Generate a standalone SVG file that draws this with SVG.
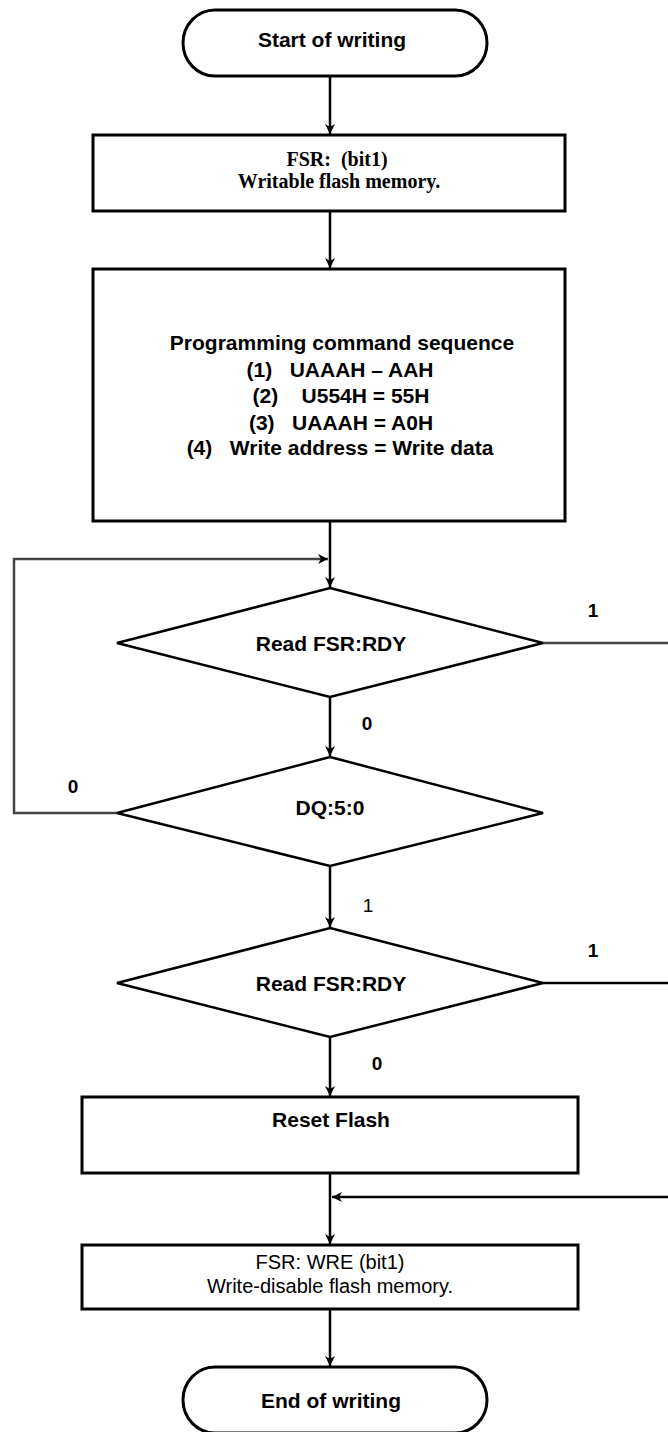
<svg xmlns="http://www.w3.org/2000/svg" width="668" height="1432" viewBox="0 0 668 1432">
<style>
.shape{fill:#fff;stroke:#000;stroke-width:3}
.dia{fill:#fff;stroke:#000;stroke-width:2.5}
.t{font-family:"Liberation Sans",Arial,sans-serif;font-size:21px;font-weight:bold;fill:#000;text-anchor:middle}
.tr{font-family:"Liberation Sans",Arial,sans-serif;font-size:20px;fill:#000;text-anchor:middle}
.ts{font-family:"Liberation Serif","Times New Roman",serif;font-size:20px;font-weight:bold;fill:#000;text-anchor:middle}
.lbl{font-family:"Liberation Sans",Arial,sans-serif;font-size:19px;font-weight:bold;fill:#000;text-anchor:middle}
.lblr{font-family:"Liberation Sans",Arial,sans-serif;font-size:19px;fill:#000;text-anchor:middle}
.c{fill:none;stroke:#000;stroke-width:2.5}
.cg{fill:none;stroke:#444;stroke-width:2.5}
</style>
<defs>
<marker id="ah" viewBox="0 0 10 10" refX="10" refY="5" markerWidth="10" markerHeight="10" markerUnits="userSpaceOnUse" orient="auto">
<path d="M0,0 L10,5 L0,10 L3,5 z" fill="#000"/>
</marker>
</defs>

<g id="connectors">
<path class="c" d="M330,76 V134" marker-end="url(#ah)"/>
<path class="c" d="M330,211 V268" marker-end="url(#ah)"/>
<path class="c" d="M330,521 V587" marker-end="url(#ah)"/>
<path class="cg" d="M117,813 H14 V559 H328" marker-end="url(#ah)"/>
<path class="cg" d="M543,643 H668"/>
<path class="c" d="M330,697 V756" marker-end="url(#ah)"/>
<path class="c" d="M330,866 V927" marker-end="url(#ah)"/>
<path class="c" d="M543,983 H668"/>
<path class="c" d="M330,1037 V1096" marker-end="url(#ah)"/>
<path class="c" d="M330,1173 V1244" marker-end="url(#ah)"/>
<path class="c" d="M668,1197 H332" marker-end="url(#ah)"/>
<path class="c" d="M330,1309 V1366" marker-end="url(#ah)"/>
<text class="lbl" x="593" y="617">1</text>
<text class="lbl" x="367" y="730">0</text>
<text class="lbl" x="73" y="793">0</text>
<text class="lblr" x="368" y="912">1</text>
<text class="lbl" x="593" y="957">1</text>
<text class="lbl" x="377" y="1070">0</text>
</g>

<g id="start">
<rect class="shape" x="183" y="10" width="304" height="66" rx="32" ry="33"/>
<text class="t" x="332" y="47">Start of writing</text>
</g>

<g id="fsr-enable">
<rect class="shape" x="93" y="135" width="472" height="76"/>
<text class="ts" x="337" y="166" xml:space="preserve">FSR:  (bit1)</text>
<text class="ts" x="339" y="188">Writable flash memory.</text>
</g>

<g id="program-seq">
<rect class="shape" x="93" y="269" width="472" height="252"/>
<text class="t" x="342" y="350">Programming command sequence</text>
<text class="t" x="340" y="377" xml:space="preserve">(1)   UAAAH – AAH</text>
<text class="t" x="341" y="403" xml:space="preserve">(2)    U554H = 55H</text>
<text class="t" x="341" y="430" xml:space="preserve">(3)   UAAAH = A0H</text>
<text class="t" x="340" y="455" xml:space="preserve">(4)   Write address = Write data</text>
</g>

<g id="read-rdy-1">
<polygon class="dia" points="330,588 543,643 330,697 117,643"/>
<text class="t" x="331" y="651">Read FSR:RDY</text>
</g>

<g id="dq5">
<polygon class="dia" points="330,757 543,813 330,866 117,813"/>
<text class="t" x="330" y="815">DQ:5:0</text>
</g>

<g id="read-rdy-2">
<polygon class="dia" points="330,928 543,983 330,1037 117,983"/>
<text class="t" x="331" y="991">Read FSR:RDY</text>
</g>

<g id="reset-flash">
<rect class="shape" x="82" y="1097" width="496" height="76"/>
<text class="t" x="331" y="1127">Reset Flash</text>
</g>

<g id="fsr-disable">
<rect class="shape" x="82" y="1245" width="496" height="64"/>
<text class="tr" x="330" y="1269">FSR: WRE (bit1)</text>
<text class="tr" x="330" y="1293">Write-disable flash memory.</text>
</g>

<g id="end">
<rect class="shape" x="183" y="1367" width="304" height="66" rx="32" ry="33"/>
<text class="t" x="331" y="1408">End of writing</text>
</g>
</svg>
